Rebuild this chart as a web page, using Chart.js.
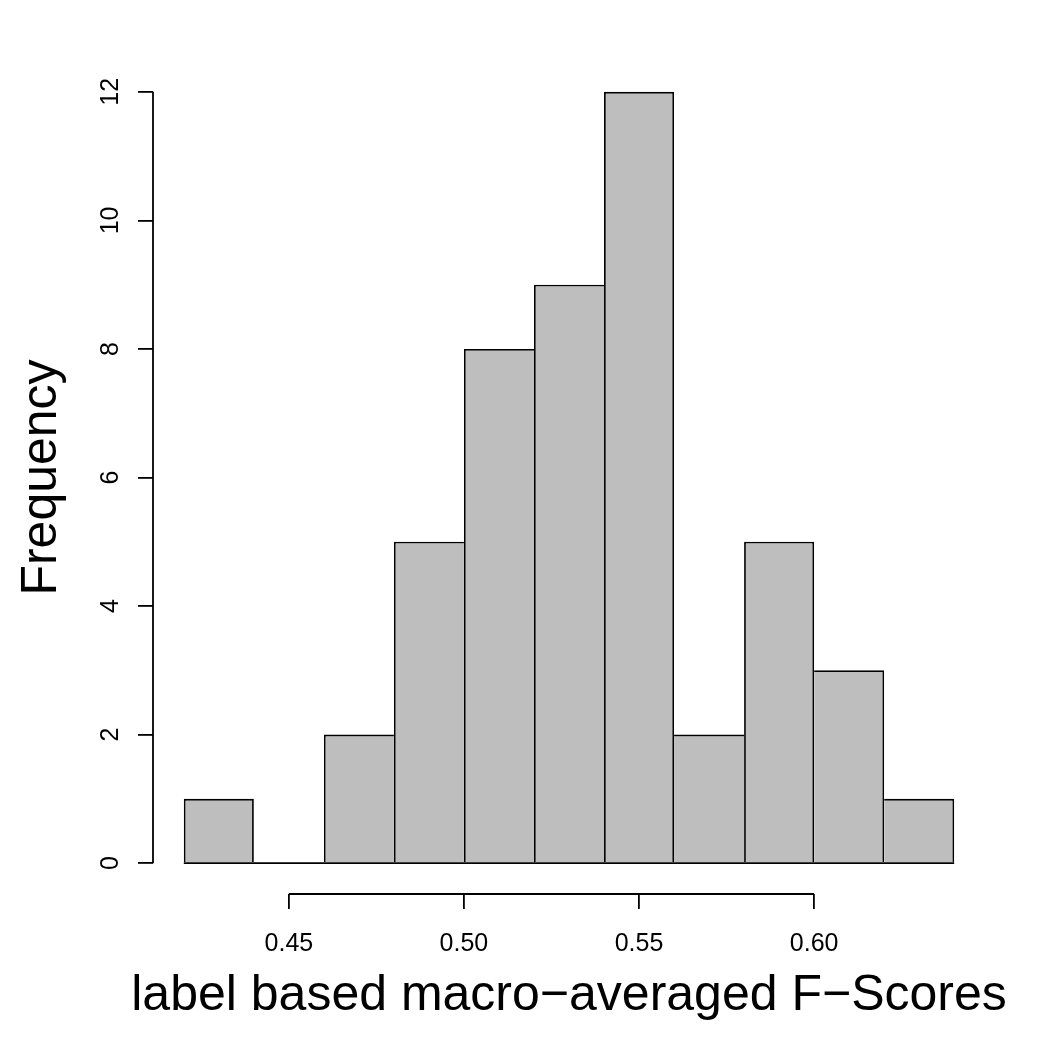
<!DOCTYPE html>
<html>
<head>
<meta charset="utf-8">
<script src="https://cdn.jsdelivr.net/npm/chart.js@4/dist/chart.umd.min.js"></script>
<style>
  html, body { margin: 0; padding: 0; background: #fff; }
  #chart-hist { display: block; }
</style>
</head>
<body>
<canvas id="chart-hist" width="1048" height="1048"></canvas>
<script>
// Histogram data
let binEdges = [0.42, 0.44, 0.46, 0.48, 0.50, 0.52, 0.54, 0.56, 0.58, 0.60, 0.62, 0.64]
let binCounts = [1, 0, 2, 5, 8, 9, 12, 2, 5, 3, 1]
let xTicks = [0.45, 0.50, 0.55, 0.60]
let xTickLabels = ['0.45', '0.50', '0.55', '0.60']
let yTicks = [0, 2, 4, 6, 8, 10, 12]
let yTickLabels = ['0', '2', '4', '6', '8', '10', '12']
let xTitle = 'label based macro\u2212averaged F\u2212Scores'
let yTitle = 'Frequency'

let fontFamily = "'Liberation Sans', Arial, Helvetica, sans-serif"
let lineW = 1.8

// R pads the plot region by 4% of the data range
let xRange = binEdges[binEdges.length - 1] - binEdges[0]
let yMaxTick = yTicks[yTicks.length - 1]

// only draw the shared edge once, like R's rect outlines
// (bottom edge comes from the baseline drawn in the plugin)
function barBorder(ctx) {
	let i = ctx.dataIndex
	let c = binCounts[i]
	let prev = i > 0 ? binCounts[i - 1] : 0
	let next = i < binCounts.length - 1 ? binCounts[i + 1] : 0
	return {
		top: lineW,
		bottom: 0,
		left: prev <= c ? lineW : 0,
		right: next < c ? lineW : 0,
	}
}

// R style detached axes, rotated y labels, wide x title
let rAxes = {
	id: 'rAxes',
	afterDraw(chart) {
		let ctx = chart.ctx
		let x = chart.scales.x
		let y = chart.scales.y
		ctx.save()
		ctx.strokeStyle = '#000'
		ctx.lineWidth = lineW

		// baseline of bins (shows the empty bin too)
		let y0 = y.getPixelForValue(0)
		ctx.beginPath()
		ctx.moveTo(x.getPixelForValue(binEdges[0]), y0)
		ctx.lineTo(x.getPixelForValue(binEdges[binEdges.length - 1]), y0)
		ctx.stroke()

		// x axis line
		ctx.beginPath()
		ctx.moveTo(x.getPixelForValue(xTicks[0]), x.top)
		ctx.lineTo(x.getPixelForValue(xTicks[xTicks.length - 1]), x.top)
		ctx.stroke()

		// y axis line
		ctx.beginPath()
		ctx.moveTo(y.right, y.getPixelForValue(yTicks[0]))
		ctx.lineTo(y.right, y.getPixelForValue(yMaxTick))
		ctx.stroke()

		// y tick labels
		ctx.fillStyle = '#000'
		ctx.font = '25px ' + fontFamily
		ctx.textAlign = 'center'
		ctx.textBaseline = 'alphabetic'
		yTicks.forEach((v, i) => {
			ctx.save()
			ctx.translate(y.right - 35, y.getPixelForValue(v))
			ctx.rotate(-Math.PI / 2)
			ctx.fillText(yTickLabels[i], 0, 0)
			ctx.restore()
		})

		// x title (wider than the plot, so not the scale title)
		ctx.font = '50px ' + fontFamily
		ctx.fillText(xTitle, (x.left + x.right) / 2, x.bottom - 38)
		ctx.restore()
	}
}

let dataHist = {
	datasets: [
		{
			label: 'Frequency',
			data: binCounts.map((c, i) => ({ x: (binEdges[i] + binEdges[i + 1]) / 2, y: c })),
			backgroundColor: '#BEBEBE',
			borderColor: '#000000',
			borderWidth: barBorder,
			borderSkipped: false,
			inflateAmount: 0,
			barPercentage: 1,
			categoryPercentage: 1,
		}
	]
}

var histChart = new Chart(document.getElementById('chart-hist'), {
	type: 'bar',
	data: dataHist,
	options: {
		responsive: false,
		animation: false,
		events: [],
		layout: { padding: { top: 61, right: 63, left: 0, bottom: 0 } },
		plugins: {
			legend: { display: false },
			tooltip: { enabled: false },
		},
		scales: {
			x: {
				type: 'linear',
				offset: false,
				min: binEdges[0] - 0.04 * xRange,
				max: binEdges[binEdges.length - 1] + 0.04 * xRange,
				afterBuildTicks: s => { s.ticks = xTicks.map(v => ({ value: v })) },
				afterFit: s => { s.height = 154 },
				ticks: {
					autoSkip: false,
					maxRotation: 0,
					callback: (v, i) => xTickLabels[i],
					color: '#000',
					font: { size: 25, family: fontFamily },
					padding: 20,
				},
				grid: { offset: false, drawOnChartArea: false, tickLength: 15, color: '#000', lineWidth: lineW },
				border: { display: false },
			},
			y: {
				min: -0.04 * yMaxTick,
				max: yMaxTick * 1.04,
				afterBuildTicks: s => { s.ticks = yTicks.map(v => ({ value: v })) },
				afterFit: s => { s.width = 153 },
				ticks: { display: false },
				grid: { drawOnChartArea: false, tickLength: 15, color: '#000', lineWidth: lineW },
				border: { display: false },
				title: {
					display: true,
					text: yTitle,
					color: '#000',
					font: { size: 50, family: fontFamily, lineHeight: 1 },
					padding: { top: 17, bottom: 0 },
				},
			},
		},
	},
	plugins: [rAxes],
})
</script>
</body>
</html>
